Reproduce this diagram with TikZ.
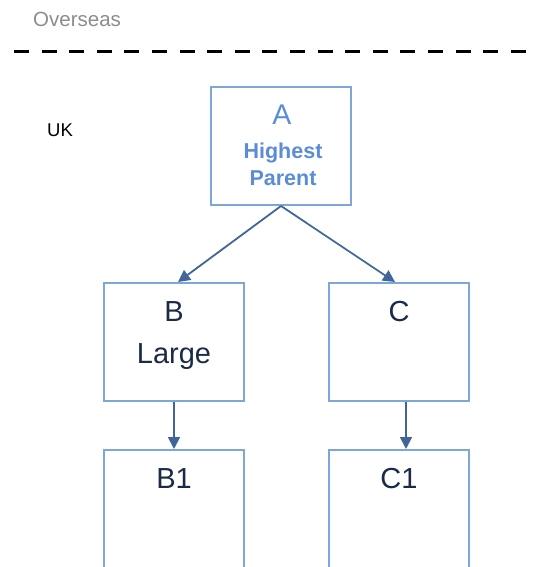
\documentclass[tikz,border=0pt]{standalone}
\usepackage{fontspec}
\setmainfont{Liberation Sans}
\usetikzlibrary{arrows.meta}
\definecolor{boxblue}{HTML}{7DA7D9}
\definecolor{arrowblue}{HTML}{41659A}
\definecolor{topblue}{HTML}{5B8CD8}
\definecolor{navy}{HTML}{1A2A48}
\definecolor{greytxt}{HTML}{8C8C8C}
\tikzset{
  box/.style={draw=boxblue, line width=2pt, minimum width=140pt, minimum height=118pt, inner sep=0pt},
  conn/.style={draw=arrowblue, line width=1.8pt, -{Triangle[length=12pt,width=12pt]}},
  lbl/.style={text=navy, font=\fontsize{29}{32}\selectfont, inner sep=0pt, anchor=base},
}
\begin{document}
\begin{tikzpicture}[x=1pt,y=-1pt]
\useasboundingbox (0,0) rectangle (535,567);
\clip (0,0) rectangle (535,567);
\node[text=greytxt, font=\fontsize{20.5}{24}\selectfont, anchor=base west, inner sep=0pt] (ov) at (33,27) {Overseas};
\coordinate (dl) at (14,52);
\coordinate (dr) at (526,52);
\draw[line width=3pt, dash pattern=on 15pt off 12.6pt] (dl) -- (dr);
\node[text=black, font=\fontsize{18.5}{22}\selectfont, anchor=base west, inner sep=0pt] (uk) at (47,136) {UK};
\node[box] (A) at (281,146) {};
\node[box] (B) at (174,342) {};
\node[box] (C) at (399,342) {};
\node[box, minimum height=140pt] (B1) at (174,520) {};
\node[box, minimum height=140pt] (C1) at (399,520) {};
\node[text=topblue, font=\fontsize{28.5}{32}\selectfont, anchor=base, inner sep=0pt] (At) at (282,124.5) {A};
\node[text=topblue, font=\bfseries\fontsize{21.5}{24}\selectfont, anchor=base, inner sep=0pt] (At2) at (283,158) {Highest};
\node[text=topblue, font=\bfseries\fontsize{21.5}{24}\selectfont, anchor=base, inner sep=0pt] (At3) at (283,185) {Parent};
\node[lbl] (Bt) at (174,321) {B};
\node[lbl] (Bt2) at (174,363) {Large};
\node[lbl] (Ct) at (399,321) {C};
\node[lbl] (B1t) at (174,488) {B1};
\node[lbl] (C1t) at (399,488) {C1};
\draw[conn] (A.south) -- ([xshift=4pt]B.north);
\draw[conn] (A.south) -- ([xshift=-4pt]C.north);
\draw[conn] (B.south) -- (B1.north);
\draw[conn] ([xshift=7pt]C.south) -- ([xshift=7pt]C1.north);
\end{tikzpicture}
\end{document}
